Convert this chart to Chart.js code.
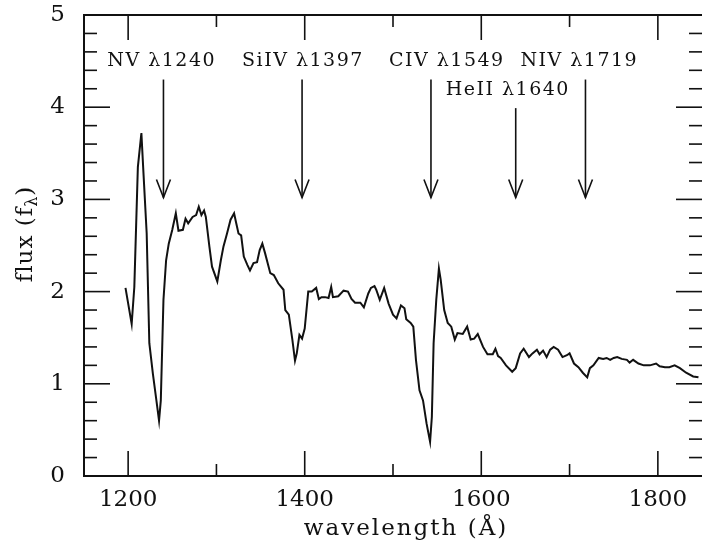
<!DOCTYPE html>
<html>
<head>
<meta charset="utf-8">
<script src="https://cdn.jsdelivr.net/npm/chart.js@4.4.0/dist/chart.umd.min.js"></script>
<style>
  html, body { margin: 0; padding: 0; background: #fff; }
  #chart { display: block; }
</style>
</head>
<body>
<canvas id="chart" width="702" height="548"></canvas>
<script>
// spectrum
const wave = [
  1197, 1204, 1207, 1211, 1215, 1217, 1221, 1224, 1228, 1232, 1235, 1237, 1240, 1243, 1246, 1250,
  1254, 1257, 1262, 1265, 1268, 1273, 1277, 1280, 1283, 1286, 1288, 1292, 1295, 1301, 1305, 1308,
  1312, 1316, 1320, 1322, 1325, 1328, 1331, 1335, 1338, 1342, 1346, 1349, 1352, 1355, 1361, 1365,
  1370, 1376, 1378, 1382, 1386, 1389, 1391, 1394, 1397, 1400, 1404, 1408, 1413, 1416, 1419, 1423,
  1427, 1430, 1432, 1438, 1444, 1449, 1453, 1457, 1463, 1467, 1472, 1475, 1479, 1481, 1485, 1490,
  1495, 1500, 1504, 1509, 1513, 1515, 1520, 1523, 1526, 1530, 1534, 1538, 1542, 1544, 1546, 1549,
  1552, 1554, 1558, 1562, 1566, 1570, 1573, 1579, 1584, 1588, 1592, 1596, 1602, 1607, 1613, 1616,
  1619, 1622, 1628, 1635, 1639, 1644, 1648, 1654, 1658, 1663, 1666, 1670, 1674, 1678, 1682, 1687,
  1692, 1697, 1700, 1705, 1710, 1715, 1720, 1723, 1727, 1733, 1738, 1742, 1746, 1750, 1754, 1759,
  1765, 1768, 1772, 1778, 1784, 1791, 1798, 1802, 1808, 1813, 1819, 1825, 1832, 1840, 1846
];
const flux = [
  2.04, 1.65, 2.05, 3.35, 3.72, 3.35, 2.63, 1.44, 1.11, 0.82, 0.60, 0.82, 1.91, 2.34, 2.52, 2.67,
  2.85, 2.66, 2.67, 2.79, 2.74, 2.81, 2.83, 2.92, 2.83, 2.88, 2.81, 2.49, 2.27, 2.11, 2.34, 2.49,
  2.63, 2.78, 2.85, 2.76, 2.63, 2.61, 2.38, 2.29, 2.23, 2.31, 2.32, 2.45, 2.52, 2.42, 2.20, 2.18,
  2.09, 2.02, 1.80, 1.75, 1.48, 1.25, 1.33, 1.53, 1.49, 1.60, 2.00, 2.00, 2.04, 1.92, 1.94, 1.94,
  1.93, 2.05, 1.94, 1.95, 2.01, 2.00, 1.92, 1.88, 1.88, 1.83, 1.98, 2.04, 2.06, 2.02, 1.91, 2.04,
  1.87, 1.75, 1.71, 1.85, 1.82, 1.70, 1.66, 1.62, 1.26, 0.93, 0.82, 0.57, 0.37, 0.64, 1.44, 1.91,
  2.25, 2.13, 1.80, 1.66, 1.62, 1.48, 1.55, 1.54, 1.62, 1.48, 1.49, 1.54, 1.40, 1.32, 1.32, 1.38,
  1.30, 1.28, 1.20, 1.13, 1.17, 1.33, 1.38, 1.29, 1.33, 1.37, 1.32, 1.36, 1.29, 1.37, 1.40, 1.37,
  1.29, 1.31, 1.33, 1.22, 1.18, 1.12, 1.07, 1.17, 1.20, 1.28, 1.27, 1.28, 1.26, 1.28, 1.29, 1.27,
  1.26, 1.23, 1.26, 1.22, 1.20, 1.20, 1.22, 1.19, 1.18, 1.18, 1.20, 1.17, 1.12, 1.08, 1.07
];

// ticks
const xTicks = [1200, 1400, 1600, 1800];
const xMinor = [1300, 1500, 1700];
const yTicks = [0, 1, 2, 3, 4, 5];
const yMinor = [0.2, 0.4, 0.6, 0.8, 1.2, 1.4, 1.6, 1.8, 2.2, 2.4, 2.6, 2.8,
                3.2, 3.4, 3.6, 3.8, 4.2, 4.4, 4.6, 4.8];

// line identifications
const lineNames = ['NV λ1240', 'SiIV λ1397', 'CIV λ1549', 'HeII λ1640', 'NIV λ1719'];
const lineWaves = [1240, 1397, 1543, 1639, 1718];
const labelWaves = [1238, 1398, 1561, 1630, 1711];
const labelRows = [0, 0, 0, 1, 0];

const FONT = '"DejaVu Serif", serif';
const INK = '#111';

const framePlugin = {
    id: 'frame',
    afterDatasetsDraw(chart) {
        const {ctx, chartArea: a, scales: {x, y}} = chart;
        ctx.save();
        ctx.strokeStyle = INK;
        ctx.lineCap = 'butt';

        // box (right edge falls off the canvas)
        ctx.lineWidth = 2;
        ctx.beginPath();
        ctx.moveTo(a.right, a.top); ctx.lineTo(a.left, a.top);
        ctx.lineTo(a.left, a.bottom); ctx.lineTo(a.right, a.bottom);
        ctx.stroke();

        ctx.lineWidth = 1.6;
        const tick = (x1, y1, x2, y2) => { ctx.beginPath(); ctx.moveTo(x1, y1); ctx.lineTo(x2, y2); ctx.stroke(); };
        xTicks.concat(xMinor).forEach(v => {
            const px = x.getPixelForValue(v);
            const len = xTicks.includes(v) ? 25 : 12;
            tick(px, a.bottom, px, a.bottom - len);
            tick(px, a.top, px, a.top + len);
        });
        yTicks.concat(yMinor).forEach(v => {
            const py = y.getPixelForValue(v);
            const len = yTicks.includes(v) ? 26 : 13;
            tick(a.left, py, a.left + len, py);
            tick(a.right, py, a.right - len, py);
        });

        // arrows + labels
        ctx.fillStyle = INK;
        ctx.font = '19px ' + FONT;
        ctx.letterSpacing = '1.5px';
        ctx.textAlign = 'center';
        ctx.textBaseline = 'alphabetic';
        ctx.lineWidth = 1.6;
        lineWaves.forEach((w, i) => {
            const px = x.getPixelForValue(w);
            const top = y.getPixelForValue(labelRows[i] ? 3.99 : 4.30);
            const tip = y.getPixelForValue(3.02);
            tick(px, top, px, tip);
            ctx.beginPath();
            ctx.moveTo(px - 7, tip - 18); ctx.lineTo(px, tip); ctx.lineTo(px + 7, tip - 18);
            ctx.stroke();
            const lx = x.getPixelForValue(labelWaves[i]);
            const ly = y.getPixelForValue(labelRows[i] ? 4.13 : 4.45);
            ctx.fillText(lineNames[i], lx, ly);
        });

        // axis titles
        ctx.font = '23px ' + FONT;
        ctx.letterSpacing = '2px';
        ctx.textAlign = 'center';
        ctx.fillText('wavelength (Å)', 406, 535);

        ctx.letterSpacing = '1px';
        ctx.translate(32, 234);
        ctx.rotate(-Math.PI / 2);
        const big = '23px ' + FONT, small = '16px ' + FONT;
        ctx.font = big;
        const w1 = ctx.measureText('flux (f').width;
        const w3 = ctx.measureText(')').width;
        ctx.font = small;
        const w2 = ctx.measureText('λ').width;
        let cx = -(w1 + w2 + w3) / 2;
        ctx.textAlign = 'left';
        ctx.font = big;
        ctx.fillText('flux (f', cx, 0);
        cx += w1;
        ctx.font = small;
        ctx.fillText('λ', cx, 5);
        cx += w2;
        ctx.font = big;
        ctx.fillText(')', cx, 0);
        ctx.restore();
    }
};

function render() {
    const ctx = document.getElementById('chart');
    const points = wave.map((w, i) => ({x: w, y: flux[i]}));
    new Chart(ctx, {
        type: 'line',
        data: {
            datasets: [{
                data: points,
                borderColor: INK,
                borderWidth: 2,
                pointRadius: 0,
                tension: 0,
                fill: false
            }]
        },
        options: {
            responsive: false,
            animation: false,
            events: [],
            layout: {padding: {top: 15, right: -4, bottom: 0, left: 0}},
            plugins: {legend: {display: false}, tooltip: {enabled: false}},
            scales: {
                x: {
                    type: 'linear', min: 1150, max: 1850,
                    afterBuildTicks: s => { s.ticks = xTicks.map(v => ({value: v})); },
                    afterFit: s => { s.height = 72; s.paddingLeft = 0; s.paddingRight = 0; },
                    grid: {display: false, drawTicks: false},
                    border: {display: false},
                    ticks: {padding: 10, color: INK, font: {family: FONT, size: 23}, callback: v => String(v)}
                },
                y: {
                    min: 0, max: 5,
                    afterBuildTicks: s => { s.ticks = yTicks.map(v => ({value: v})); },
                    afterFit: s => { s.width = 84; s.paddingTop = 0; s.paddingBottom = 0; },
                    grid: {display: false, drawTicks: false},
                    border: {display: false},
                    ticks: {padding: 19, color: INK, font: {family: FONT, size: 23}, callback: v => String(v)}
                }
            }
        },
        plugins: [framePlugin]
    });
}

render();
</script>
</body>
</html>
